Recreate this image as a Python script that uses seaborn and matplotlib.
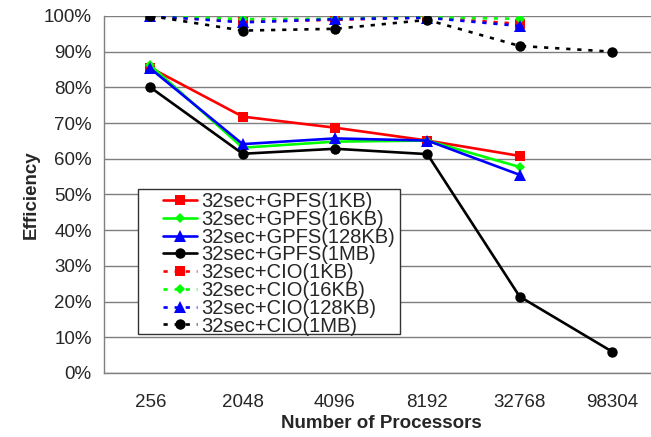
import matplotlib
matplotlib.use("Agg")
import matplotlib.pyplot as plt
import matplotlib.patches as mpatches
import numpy as np
import pandas as pd
import seaborn as sns

processors = ["256", "2048", "4096", "8192", "32768", "98304"]

gpfs_1kb = [85.5, 71.8, 68.7, 65.1, 60.8]
gpfs_16kb = [86.2, 63.1, 64.8, 65.1, 57.7]
gpfs_128kb = [85.3, 64.1, 65.7, 65.1, 55.5]
gpfs_1mb = [80.0, 61.4, 62.8, 61.3, 21.4, 6.0]
cio_1kb = [100.0, 98.4, 98.9, 99.6, 97.8]
cio_16kb = [100.0, 99.1, 99.2, 99.6, 99.2]
cio_128kb = [100.0, 98.2, 99.1, 99.5, 97.2]
cio_1mb = [100.0, 95.9, 96.4, 98.9, 91.6, 90.0]

series_names = [
    "32sec+GPFS(1KB)", "32sec+GPFS(16KB)", "32sec+GPFS(128KB)", "32sec+GPFS(1MB)",
    "32sec+CIO(1KB)", "32sec+CIO(16KB)", "32sec+CIO(128KB)", "32sec+CIO(1MB)",
]
series_values = [gpfs_1kb, gpfs_16kb, gpfs_128kb, gpfs_1mb,
                 cio_1kb, cio_16kb, cio_128kb, cio_1mb]

rows = []
for name, vals in zip(series_names, series_values):
    for i, v in enumerate(vals):
        rows.append({"series": name, "pos": i, "processors": processors[i], "eff": v})
df = pd.DataFrame(rows)

sns.set_style("white")
plt.rcParams["font.family"] = ["Liberation Sans", "DejaVu Sans"]

base_colors = ["#ff0000", "#00ff00", "#0000ff", "#000000"]
base_markers = ["s", "D", "^", "o"]
palette = dict(zip(series_names, base_colors * 2))
markers = dict(zip(series_names, base_markers * 2))
dashes = dict(zip(series_names, [""] * 4 + [(1.6, 2.6)] * 4))
msizes = [7.5, 5.5, 8, 7.5] * 2

fig = plt.figure(figsize=(6.51, 4.37), dpi=100)
ax = fig.add_axes([0.160, 0.1465, 0.851, 0.817])

sns.lineplot(
    data=df, x="pos", y="eff", hue="series", style="series",
    hue_order=series_names, style_order=series_names,
    palette=palette, markers=markers, dashes=dashes,
    linewidth=1.9, markeredgewidth=0, sort=False, legend=False, ax=ax,
)
for line, ms in zip(ax.lines, msizes):
    line.set_markersize(ms)

grid_color = "#7f7f7f"
ax.set_xlim(-0.5, 5.5)
ax.set_ylim(0, 100)
ax.set_yticks(np.arange(0, 101, 10))
ax.set_yticklabels([f"{v}%" for v in range(0, 101, 10)])
ax.set_xticks(range(len(processors)))
ax.set_xticklabels(processors)
ax.set_xticks(np.arange(-0.5, 6, 1), minor=True)
ax.tick_params(axis="x", which="major", length=0, pad=15, labelsize=13.5)
ax.tick_params(axis="x", which="minor", length=5, width=1, color=grid_color, direction="out")
ax.tick_params(axis="y", length=5, width=1, color=grid_color, direction="out", pad=4, labelsize=13.5)
ax.yaxis.grid(True, color=grid_color, linewidth=1)
ax.set_axisbelow(True)

for side in ["top", "right"]:
    ax.spines[side].set_visible(False)
for side in ["left", "bottom"]:
    ax.spines[side].set_color(grid_color)
    ax.spines[side].set_linewidth(1)

ax.set_xlabel("Number of Processors", fontsize=13.5, fontweight="bold", labelpad=3)
ax.set_ylabel("Efficiency", fontsize=13.5, fontweight="bold", labelpad=3)

# legend box drawn separately to get Excel-like padding
ax.add_patch(mpatches.Rectangle(
    (0.0614, 0.109), 0.4726, 0.406, transform=ax.transAxes,
    facecolor="white", edgecolor="#333333", linewidth=1, zorder=10, clip_on=False,
))
leg = ax.legend(
    ax.lines, series_names, loc="upper left", bbox_to_anchor=(0.106, 0.507),
    frameon=False, fontsize=14.5, borderpad=0, borderaxespad=0,
    handlelength=1.7, handletextpad=0.2, labelspacing=-0.06, numpoints=1,
)
leg.set_zorder(11)

fig.savefig("out.png", dpi=100, facecolor="white")
